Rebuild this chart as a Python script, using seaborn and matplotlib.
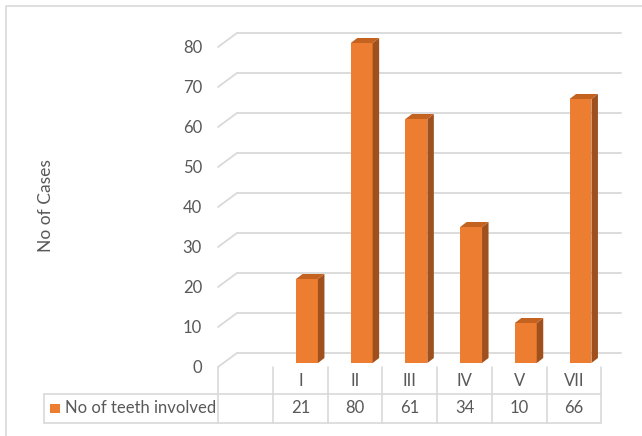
import matplotlib
matplotlib.use("Agg")
import matplotlib.pyplot as plt
import seaborn as sns
from matplotlib.patches import Polygon, Rectangle

# data
classes = ['I', 'II', 'III', 'IV', 'V', 'VII']
teeth = [21, 80, 61, 34, 10, 66]
series_name = 'No of teeth involved'
y_ticks = [0, 10, 20, 30, 40, 50, 60, 70, 80]

orange = '#ED7D31'
side_col = '#A0501C'
top_col = '#C4621F'
grid_col = '#D9D9D9'
text_col = '#595959'

sns.set_theme(style='white')
plt.rcParams['font.family'] = ['Lato', 'DejaVu Sans']

fig = plt.figure(figsize=(6.42, 4.36), dpi=100)
ax = fig.add_axes([0, 0, 1, 1])

# pixel -> data helpers (one category = 54.7 px, one unit = 4 px)
X0, PXU, Y0, PYU = 307, 54.7, 363, 4.0
def X(px):
    return (px - X0) / PXU
def Y(py):
    return (Y0 - py) / PYU

sns.barplot(x=classes, y=teeth, color=orange, saturation=1, width=0.4,
            ax=ax, zorder=3, linewidth=0)

ax.set_xlim(X(0), X(642))
ax.set_ylim(Y(436), Y(0))
ax.axis('off')

# 3d depth of bars
ddx = 6.5 / PXU
ddy = 5 / PYU
for p in ax.patches:
    x0 = p.get_x()
    w = p.get_width()
    h = p.get_height()
    side = Polygon([(x0 + w, 0), (x0 + w + ddx, ddy), (x0 + w + ddx, h + ddy), (x0 + w, h)],
                   closed=True, fc=side_col, ec='none', zorder=3)
    top = Polygon([(x0, h), (x0 + ddx, h + ddy), (x0 + w + ddx, h + ddy), (x0 + w, h)],
                  closed=True, fc=top_col, ec='none', zorder=3)
    ax.add_patch(side)
    ax.add_patch(top)

# gridlines: back wall + floor diagonals
for v in y_ticks:
    ax.plot([X(237), X(621)], [v + 2.5, v + 2.5], color=grid_col, lw=1.3, zorder=1)
    ax.plot([X(218), X(237)], [v - 1, v + 2.5], color=grid_col, lw=1.3, zorder=1)
    ax.text(X(202), v - 1.25, str(v), ha='right', va='center', fontsize=12, color=text_col)

ax.text(X(46), Y(206), 'No of Cases', rotation=90, ha='center', va='center',
        fontsize=12.5, color=text_col)

# data table
bounds = [X(218)] + [i - 0.62 for i in range(len(classes) + 1)]
for b in bounds:
    ax.plot([b, b], [Y(367), Y(423)], color=grid_col, lw=1.2, zorder=1)
ax.plot([X(44), X(44)], [Y(394), Y(423)], color=grid_col, lw=1.2, zorder=1)
for py in [394, 423]:
    ax.plot([X(44), bounds[-1]], [Y(py), Y(py)], color=grid_col, lw=1.2, zorder=1)

for i, (c, n) in enumerate(zip(classes, teeth)):
    ax.text(i - 0.12, Y(381), c, ha='center', va='center', fontsize=12, color=text_col)
    ax.text(i - 0.12, Y(408), str(n), ha='center', va='center', fontsize=12, color=text_col)

ax.add_patch(Rectangle((X(50), Y(413)), X(60) - X(50), Y(404) - Y(413),
                       fc=orange, ec='none'))
ax.text(X(65), Y(408), series_name, ha='left', va='center', fontsize=12, color=text_col)

# chart border
ax.plot([X(6), X(6), X(642)], [Y(436), Y(6), Y(6)], color=grid_col, lw=1.2)

fig.savefig('out.png', dpi=100)
